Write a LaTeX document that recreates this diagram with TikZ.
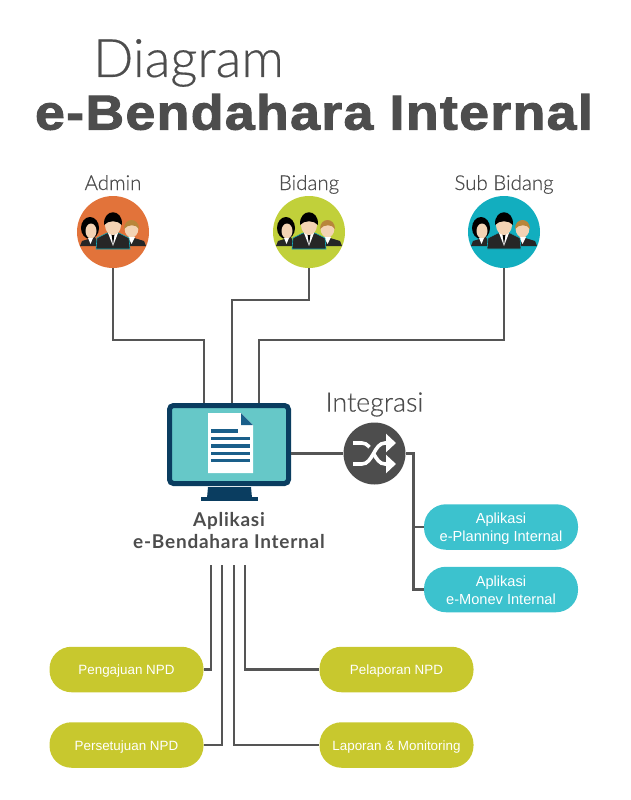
\documentclass[tikz,border=0pt]{standalone}
\usepackage{fontspec}
\setmainfont{Liberation Sans}
\newfontfamily\thinfont[FakeBold=0.35]{Lato Light}
\newfontfamily\robofont[LetterSpace=4]{Lato}
\newfontfamily\heavyfont[FakeStretch=1.09,LetterSpace=3,BoldFeatures={FakeBold=2.2,FakeStretch=1.09,LetterSpace=3}]{Liberation Sans}
\usetikzlibrary{arrows.meta}
\definecolor{inkgrey}{HTML}{4D4D4D}
\definecolor{linegrey}{HTML}{555555}
\definecolor{admincol}{HTML}{E2733A}
\definecolor{bidangcol}{HTML}{C1D03A}
\definecolor{subcol}{HTML}{12AEBF}
\definecolor{olivecol}{HTML}{C8C82E}
\definecolor{tealcol}{HTML}{3CC2CE}
\definecolor{navycol}{HTML}{0A3D60}
\definecolor{screencol}{HTML}{66C8C8}
\definecolor{rowcol}{HTML}{1A5F8A}
\definecolor{skincol}{HTML}{F3D3B4}
\definecolor{haircol}{HTML}{B8863B}
\tikzset{
	conn/.style={draw=linegrey, line width=2.4pt},
	pill/.style={rounded corners=22pt, minimum width=154pt, minimum height=45.5pt, inner sep=0pt, text=white, align=center},
	smalltext/.style={font=\fontsize{13.4}{18}\selectfont},
	widetext/.style={font=\fontsize{14.6}{18}\selectfont},
	rolelabel/.style={text=inkgrey, anchor=base, font=\thinfont\fontsize{20.5}{22}\selectfont},
	shufflewire/.style={draw=white, line width=3.6pt, -{Triangle[length=10pt,width=18pt,fill=white]}},
	shufflecase/.style={draw=inkgrey, line width=6pt},
	people/.pic={
		\fill[black] (-23,-4) ellipse (9 and 11);
		\fill[black!85] (-33,14) -- (-31,9) -- (-18,5) -- (-14,14) -- cycle;
		\fill[skincol] (-22,-1) ellipse (5.5 and 7.5);
		\fill[white] (-25,6) -- (-20,6) -- (-22.5,12) -- cycle;
		\fill[black!85] (33,14) -- (31,9) -- (18,5) -- (14,14) -- cycle;
		\fill[skincol] (18.5,-3) ellipse (6.8 and 8.5);
		\fill[haircol] (11,-3) .. controls (11,-15) and (26,-15) .. (26,-3) .. controls (23,-8) and (15,-8) .. cycle;
		\fill[white] (15,5) -- (22,5) -- (18.5,12) -- cycle;
		\fill[black!85, draw=subcol, line width=.6pt] (-17,17) -- (-16,6) -- (-6,1) -- (6,1) -- (16,6) -- (17,17) -- cycle;
		\fill[white] (-5,1) -- (5,1) -- (0,14) -- cycle;
		\fill[black] (-1.5,2) -- (1.5,2) -- (0,13) -- cycle;
		\fill[skincol] (0,-7) ellipse (8 and 10);
		\fill[black] (-9,-7) .. controls (-10,-24) and (10,-24) .. (9,-7) .. controls (5,-12) and (-5,-12) .. cycle;
	}
}
\begin{document}
\begin{tikzpicture}[x=1pt, y=-1pt]
	\useasboundingbox (0,0) rectangle (630,800);
	\node[text=inkgrey, font=\thinfont\fontsize{53}{56}\selectfont] (titleA) at (188.5,63) {Diagram};
	\node[text=inkgrey, font=\heavyfont\bfseries\fontsize{49}{50}\selectfont] (titleB) at (314,112) {e-Bendahara Internal};
	\foreach \x/\col/\id/\name in {113/admincol/admin/Admin, 309/bidangcol/bidang/Bidang, 504/subcol/subbidang/Sub Bidang} {
		\node[circle, fill=\col, minimum size=72pt, inner sep=0pt] (\id) at (\x,232) {};
		\pic at (\x,232) {people};
		\node[rolelabel] (\id label) at (\x,190) {\name};
	}
	\node[draw=navycol, fill=screencol, line width=5pt, rounded corners=4pt, minimum width=119pt, minimum height=78pt, inner sep=0pt] (monitor) at (229,444.5) {};
	\fill[navycol] (208,487) -- (251,487) -- (252,498) -- (207,498) -- cycle;
	\fill[navycol] (201,497) rectangle (258,501);
	\fill[white] (208,413) -- (241,413) -- (253,425) -- (253,473) -- (208,473) -- cycle;
	\fill[rowcol] (241,413) -- (253,425) -- (241,425) -- cycle;
	\fill[rowcol] (211,429) rectangle (238,433);
	\foreach \y in {436.5,444,451.5,458.5} {
		\fill[rowcol] (211,\y) rectangle (250,\y+3.5);
	}
	\node[text=inkgrey, align=center, font=\robofont\bfseries\fontsize{19}{22}\selectfont] (applabel) at (229,531) {Aplikasi\\e-Bendahara Internal};
	\node[circle, fill=inkgrey, minimum size=62pt, inner sep=0pt] (shuffle) at (374.5,453.5) {};
	\node[text=inkgrey, font=\thinfont\fontsize{26.8}{28}\selectfont] (integrasi) at (374.5,404.5) {Integrasi};
	\draw[shufflewire] (353,443) -- (362,443) .. controls (373,443) and (374,464) .. (385,464) -- (396,464);
	\draw[shufflecase] (366,456) .. controls (370,451) and (374,446) .. (380,444);
	\draw[shufflewire] (353,464) -- (362,464) .. controls (373,464) and (374,443) .. (385,443) -- (396,443);
	\foreach \y/\id/\name in {527/planning/{\rule{0pt}{15pt}Aplikasi\\e-Planning Internal}, 589.5/monev/{\rule{0pt}{13pt}Aplikasi\\e-Monev Internal}} {
		\node[pill, widetext, fill=tealcol] (\id) at (501,\y) {\name};
	}
	\foreach \x/\y/\id/\name in {126.5/669.5/pengajuan/{\rule{0pt}{13pt}Pengajuan NPD}, 126.5/745/persetujuan/{\rule{0pt}{13pt}Persetujuan NPD}, 396.5/669.5/pelaporan/{\rule{0pt}{13pt}Pelaporan NPD}, 396.5/745/laporan/{\rule{0pt}{13pt}Laporan \& Monitoring}} {
		\node[pill, smalltext, fill=olivecol] (\id) at (\x,\y) {\name};
	}
	\coordinate (inA) at (204,340);
	\coordinate (inB) at (232,300);
	\coordinate (inC) at (259,340);
	\draw[conn] (admin.south) |- (inA) -- (inA |- monitor.north);
	\draw[conn] (bidang.south) |- (inB) -- (inB |- monitor.north);
	\draw[conn] (subbidang.south) |- (inC) -- (inC |- monitor.north);
	\draw[conn] (monitor.east |- shuffle.west) -- (shuffle.west);
	\coordinate (bus) at (413.5,453.5);
	\draw[conn] (shuffle.east) -- (bus) |- (monev.west);
	\draw[conn] (bus) |- (planning.west);
	\coordinate (outA) at (211,565);
	\coordinate (outB) at (222,565);
	\coordinate (outC) at (234,565);
	\coordinate (outD) at (245,565);
	\draw[conn] (outA) |- (pengajuan.east);
	\draw[conn] (outB) |- (persetujuan.east);
	\draw[conn] (outC) |- (laporan.west);
	\draw[conn] (outD) |- (pelaporan.west);
\end{tikzpicture}
\end{document}
